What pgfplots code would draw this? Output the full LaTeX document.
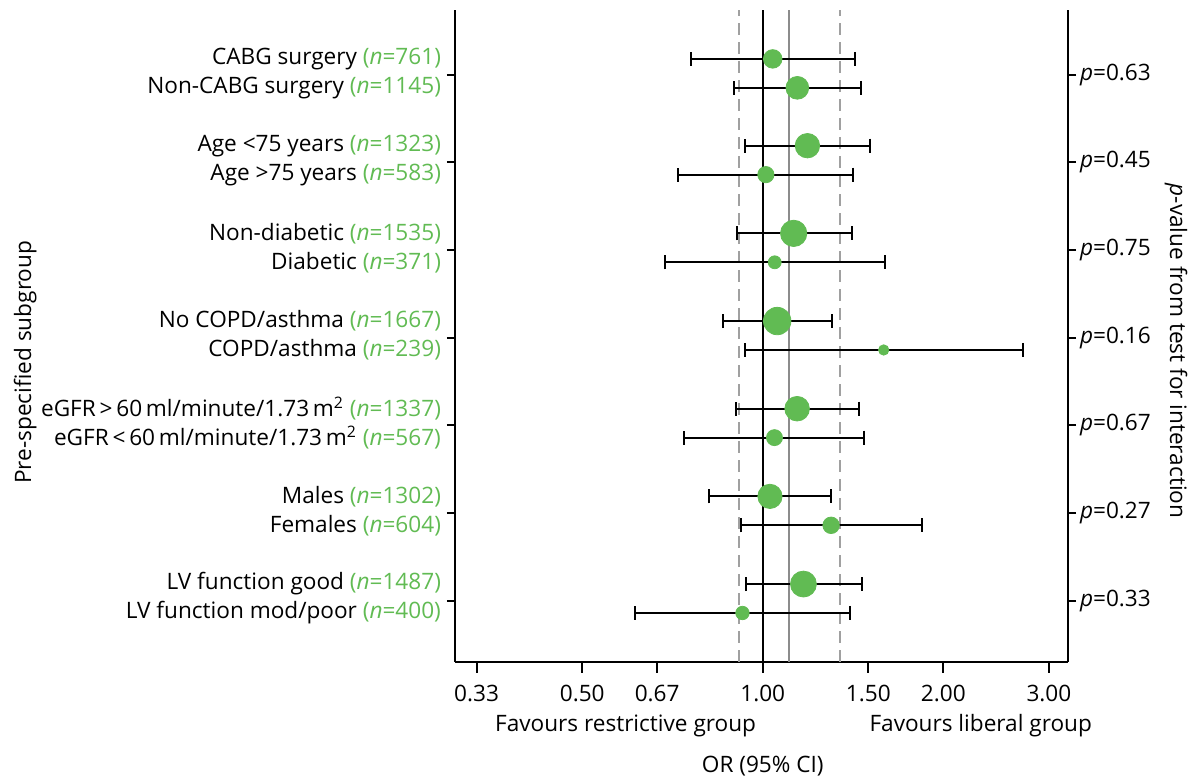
\documentclass[border=0pt]{standalone}
\usepackage{fontspec}
\setmainfont{Open Sans}
\usepackage{pgfplots}
\pgfplotsset{compat=1.18}
\usepackage{pgfplotstable}
\definecolor{ogreen}{RGB}{97,187,83}
\definecolor{lgrey}{RGB}{160,160,160}
\definecolor{mgrey}{RGB}{140,140,140}
\newcommand\nn[1]{\textcolor{ogreen}{(\textit{n}=#1)}}

\pgfplotstableread{
y     or     lo     hi     n
7.18  1.039  0.758  1.423  761
6.85  1.142  0.897  1.459  1145
6.19  1.187  0.935  1.507  1323
5.86  1.012  0.722  1.416  583
5.19  1.126  0.905  1.409  1535
4.86  1.047  0.688  1.597  371
4.19  1.057  0.858  1.306  1667
3.86  1.591  0.935  2.712  239
3.19  1.141  0.902  1.446  1337
2.86  1.046  0.740  1.475  567
2.19  1.028  0.814  1.301  1302
1.86  1.300  0.919  1.842  604
1.19  1.169  0.937  1.461  1487
0.86  0.925  0.613  1.397  400
}\datatab

\begin{document}
\begin{tikzpicture}[font=\fontsize{11.3}{13.5}\selectfont]
\begin{axis}[
  scale only axis, width=306.5pt, height=326pt,
  xmode=log, xmin=0.3068, xmax=3.228, ymin=0.301, ymax=7.738,
  axis x line*=bottom, axis y line*=left,
  axis line style={-, line width=1pt, black},
  tick align=outside,
  every tick/.style={black, line width=1pt},
  major tick length=4pt,
  xtick style={/pgfplots/major tick length=5.3pt},
  xtick={0.3333,0.5,0.6667,1,1.5,2,3},
  xticklabels={0.33,0.50,0.67,1.00,1.50,2.00,3.00},
  xticklabel style={yshift=-4pt},
  minor xtick={},
  ytick={1,2,3,4,5,6,7}, yticklabels={},
  extra y ticks={7.18,6.85,6.19,5.86,5.19,4.86,4.19,3.86,3.19,2.86,2.19,1.86,1.19,0.86},
  extra y tick labels={
    {CABG surgery \nn{761}},
    {Non-CABG surgery \nn{1145}},
    {Age <75 years \nn{1323}},
    {Age >75 years \nn{583}},
    {Non-diabetic \nn{1535}},
    {Diabetic \nn{371}},
    {No COPD/asthma \nn{1667}},
    {COPD/asthma \nn{239}},
    {eGFR\,>\,60\,ml/minute/1.73\,m\textsuperscript{2} \nn{1337}},
    {eGFR\,<\,60\,ml/minute/1.73\,m\textsuperscript{2} \nn{567}},
    {Males \nn{1302}},
    {Females \nn{604}},
    {LV function good \nn{1487}},
    {LV function mod/poor \nn{400}}},
  extra y tick style={major tick length=0pt, tick style={draw=none}, yticklabel style={xshift=-3.5pt}},
  clip=false,
]
\addplot[lgrey, line width=1pt, dash pattern=on 6pt off 3.5pt] coordinates {(0.914,0.301) (0.914,7.738)};
\addplot[lgrey, line width=1pt, dash pattern=on 6pt off 3.5pt] coordinates {(1.343,0.301) (1.343,7.738)};
\addplot[mgrey, line width=1pt] coordinates {(1.106,0.301) (1.106,7.738)};
\addplot[black, line width=1pt] coordinates {(1,0.301) (1,7.738)};
\addplot[
  ogreen, scatter, only marks, mark=*,
  mark options={draw=ogreen, fill=ogreen},
  point meta=\thisrow{n},
  scatter/use mapped color={draw=ogreen, fill=ogreen},
  visualization depends on={0.168*sqrt(\thisrow{n}) \as \rad},
  scatter/@pre marker code/.append style={/tikz/mark size=\rad},
  error bars/.cd, x dir=both, x explicit, error mark=|,
  error bar style={black, line width=1pt},
  error mark options={black, line width=1pt, mark size=3.5pt},
] table[x=or, y=y,
  x error plus expr=\thisrow{hi}-\thisrow{or},
  x error minus expr=\thisrow{or}-\thisrow{lo}] \datatab;
\node[rotate=90] at (axis cs:0.0589,3.72) {Pre-specified subgroup};
\node[rotate=-90] at (axis cs:4.888,3.848) {\textit{p}-value from test for interaction};
\node at (axis cs:0.5906,-0.43) {Favours restrictive group};
\node at (axis cs:2.309,-0.43) {Favours liberal group};
\node at (axis cs:1,-0.885) {OR (95\% CI)};
\end{axis}
\begin{axis}[
  scale only axis, width=306.5pt, height=326pt,
  xmode=log, xmin=0.3068, xmax=3.228, ymin=0.301, ymax=7.738,
  axis x line=none, axis y line*=right,
  axis line style={-, line width=1pt, black},
  tick align=outside,
  every tick/.style={black, line width=1pt},
  major tick length=4pt,
  xtick=\empty,
  ytick={1,2,3,4,5,6,7},
  yticklabel style={xshift=-1.5pt},
  yticklabels={{\textit{p}=0.33},{\textit{p}=0.27},{\textit{p}=0.67},{\textit{p}=0.16},{\textit{p}=0.75},{\textit{p}=0.45},{\textit{p}=0.63}},
]
\end{axis}
\pgfresetboundingbox
\path ([xshift=-227.5pt,yshift=-57pt]current axis.south west) rectangle ([xshift=61.5pt,yshift=5pt]current axis.north east);
\end{tikzpicture}
\end{document}
